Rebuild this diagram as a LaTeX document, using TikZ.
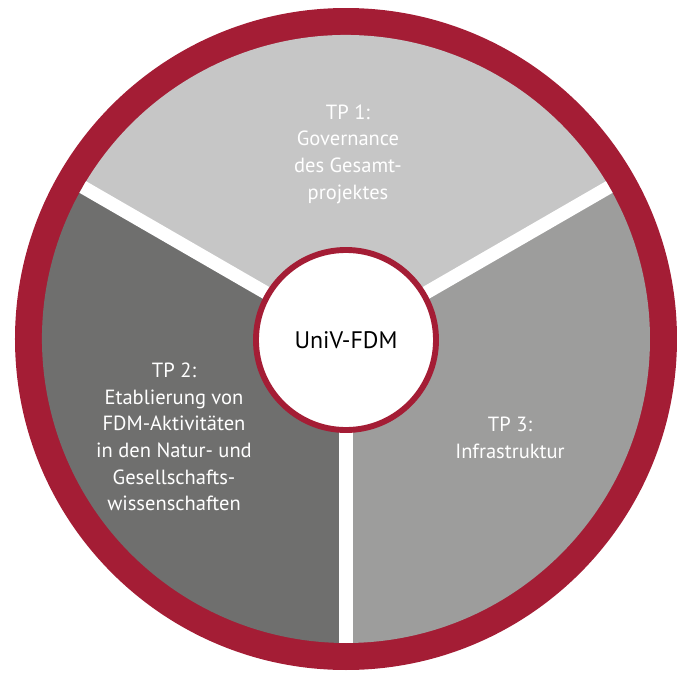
\documentclass[tikz,border=0pt]{standalone}
\usepackage{fontspec}
\setmainfont{PT Sans}
\definecolor{univred}{HTML}{A41D35}
\definecolor{tpone}{HTML}{C6C6C6}
\definecolor{tptwo}{HTML}{6F6F6E}
\definecolor{tpthree}{HTML}{9D9D9C}
\usepackage{tikz}
\usetikzlibrary{positioning}

\tikzset{
  tplabel/.style={align=center, text=white, font=\fontsize{14.6}{18.9}\selectfont},
  hub/.style={circle, draw=univred, line width=4.2pt, fill=white, minimum size=4.5cm,
    inner sep=0pt, font=\fontsize{17}{20}\selectfont}
}

\begin{document}
\begin{tikzpicture}[x=0.025cm, y=0.025cm]
    \useasboundingbox (-346,-334) rectangle (341,339);
    % --- Outer ring ---
    \fill[univred] (0,0) circle[radius=331];
    % --- Sectors ---
    \fill[tpone] (0,0) -- (30:304) arc[start angle=30, end angle=150, radius=304] -- cycle;
    \fill[tptwo] (0,0) -- (150:304) arc[start angle=150, end angle=270, radius=304] -- cycle;
    \fill[tpthree] (0,0) -- (270:304) arc[start angle=-90, end angle=30, radius=304] -- cycle;
    % --- Separators ---
    \foreach \a in {30,150,270}
      \draw[white, line width=9.5pt] (0,0) -- (\a:304);
    % --- Labels ---
    \node[hub] (hub) at (0,-1) {UniV-FDM};
    \node[tplabel] (tp1) at (2,185) {TP 1:\\Governance\\des Gesamt-\\projektes};
    \node[tplabel] (tp2) at (-172,-98) {TP 2:\\Etablierung von\\FDM-Aktivitäten\\in den Natur- und\\Gesellschafts-\\wissenschaften};
    \node[tplabel] (tp3) at (164,-99) {TP 3:\\Infrastruktur};
\end{tikzpicture}
\end{document}
